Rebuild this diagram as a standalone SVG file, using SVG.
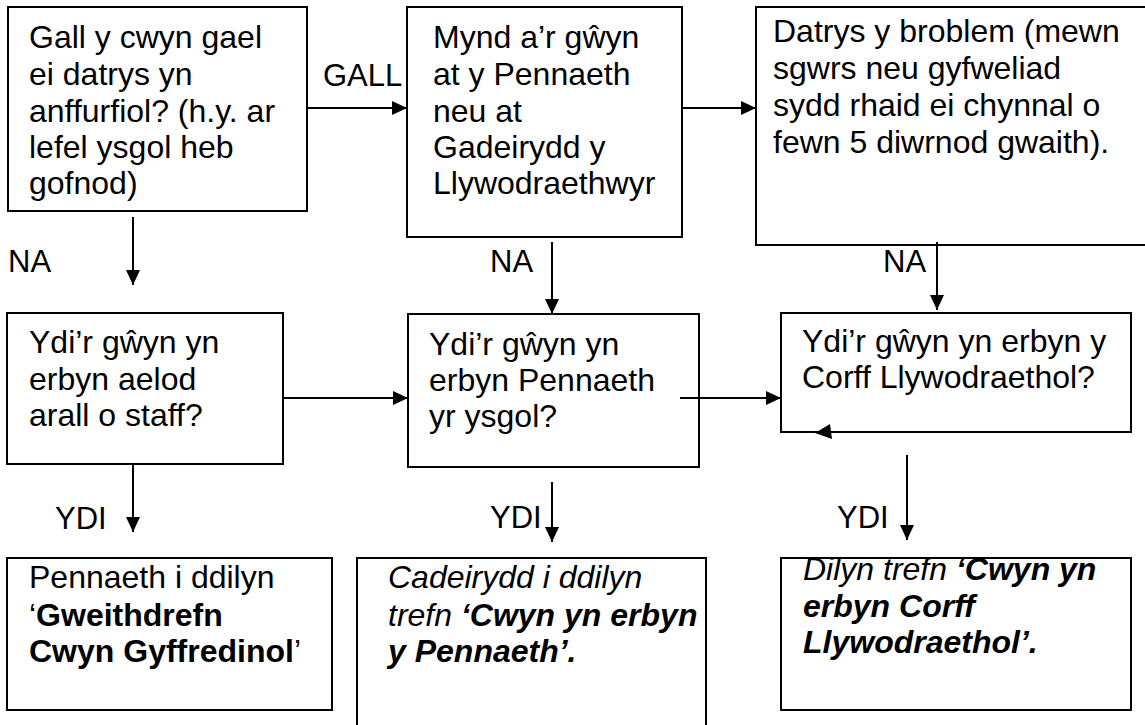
<svg xmlns="http://www.w3.org/2000/svg" width="1145" height="725" viewBox="0 0 1145 725">
<style>
.box{fill:#fff;stroke:#000;stroke-width:2}
.t{font-family:"Liberation Sans",Arial,sans-serif;font-size:32px;fill:#000}
.lbl{font-family:"Liberation Sans",Arial,sans-serif;font-size:31px;fill:#000}
.c{stroke:#000;stroke-width:2;fill:none;marker-end:url(#ah)}
.b{font-weight:bold}
.i{font-style:italic}
</style>
<defs>
<marker id="ah" markerUnits="userSpaceOnUse" markerWidth="16" markerHeight="14" refX="15" refY="7" orient="auto">
<path d="M0,0 L15,7 L0,14 z" fill="#000"/>
</marker>
</defs>
<rect width="1145" height="725" fill="#fff"/>
<g id="n1">
<rect class="box" x="8" y="7" width="299" height="204"/>
<text class="t" x="29" y="48">Gall y cwyn gael</text>
<text class="t" x="29" y="85">ei datrys yn</text>
<text class="t" x="29" y="122">anffurfiol? (h.y. ar</text>
<text class="t" x="29" y="158">lefel ysgol heb</text>
<text class="t" x="29" y="194">gofnod)</text>
</g>
<g id="n2">
<rect class="box" x="407" y="7" width="275" height="230"/>
<text class="t" x="433" y="48">Mynd a’r gŵyn</text>
<text class="t" x="433" y="85">at y Pennaeth</text>
<text class="t" x="433" y="122">neu at</text>
<text class="t" x="433" y="158">Gadeirydd y</text>
<text class="t" x="433" y="194">Llywodraethwyr</text>
</g>
<g id="n3">
<rect class="box" x="756" y="7" width="400" height="238"/>
<text class="t" x="773" y="42">Datrys y broblem (mewn</text>
<text class="t" x="773" y="79">sgwrs neu gyfweliad</text>
<text class="t" x="773" y="116">sydd rhaid ei chynnal o</text>
<text class="t" x="773" y="153">fewn 5 diwrnod gwaith).</text>
</g>
<g id="n4">
<rect class="box" x="7" y="313" width="276" height="151"/>
<text class="t" x="29" y="353">Ydi’r gŵyn yn</text>
<text class="t" x="29" y="390">erbyn aelod</text>
<text class="t" x="29" y="426">arall o staff?</text>
</g>
<g id="n5">
<rect class="box" x="408" y="314" width="291" height="153"/>
<text class="t" x="429" y="355">Ydi’r gŵyn yn</text>
<text class="t" x="429" y="391">erbyn Pennaeth</text>
<text class="t" x="429" y="427">yr ysgol?</text>
</g>
<g id="n6">
<rect class="box" x="781" y="313" width="350" height="119"/>
<text class="t" x="802" y="352">Ydi’r gŵyn yn erbyn y</text>
<text class="t" x="802" y="388">Corff Llywodraethol?</text>
</g>
<g id="n7">
<rect class="box" x="7" y="558" width="325" height="152"/>
<text class="t" x="29" y="588">Pennaeth i ddilyn</text>
<text class="t" x="29" y="626">‘<tspan class="b">Gweithdrefn</tspan></text>
<text class="t" x="29" y="662"><tspan class="b">Cwyn Gyffredinol</tspan>’</text>
</g>
<g id="n8">
<rect class="box" x="357" y="558" width="349" height="180"/>
<text class="t i" x="388" y="588">Cadeirydd i ddilyn</text>
<text class="t i" x="388" y="626">trefn <tspan class="b">‘Cwyn yn erbyn</tspan></text>
<text class="t i b" x="388" y="662">y Pennaeth’.</text>
</g>
<g id="n9">
<rect class="box" x="781" y="558" width="350" height="152"/>
<text class="t i" x="803" y="580">Dilyn trefn <tspan class="b">‘Cwyn yn</tspan></text>
<text class="t i b" x="803" y="617">erbyn Corff</text>
<text class="t i b" x="803" y="653">Llywodraethol’.</text>
</g>
<g id="connectors">
<line class="c" x1="307" y1="108" x2="407" y2="108"/>
<line class="c" x1="682" y1="108" x2="756" y2="108"/>
<line class="c" x1="133" y1="217" x2="133" y2="285"/>
<line class="c" x1="552" y1="242" x2="552" y2="314"/>
<line class="c" x1="937" y1="242" x2="937" y2="310"/>
<line class="c" x1="283" y1="398" x2="408" y2="398"/>
<line class="c" x1="680" y1="398" x2="781" y2="398"/>
<line class="c" x1="133" y1="464" x2="133" y2="532"/>
<line class="c" x1="552" y1="482" x2="552" y2="542"/>
<line class="c" x1="907" y1="455" x2="907" y2="540"/>
<polygon points="815,433 830,424 832,439" fill="#000"/>
<text class="lbl" x="323" y="86">GALL</text>
<text class="lbl" x="8" y="272">NA</text>
<text class="lbl" x="490" y="272">NA</text>
<text class="lbl" x="883" y="272">NA</text>
<text class="lbl" x="55" y="529">YDI</text>
<text class="lbl" x="490" y="528">YDI</text>
<text class="lbl" x="837" y="528">YDI</text>
</g>
</svg>
